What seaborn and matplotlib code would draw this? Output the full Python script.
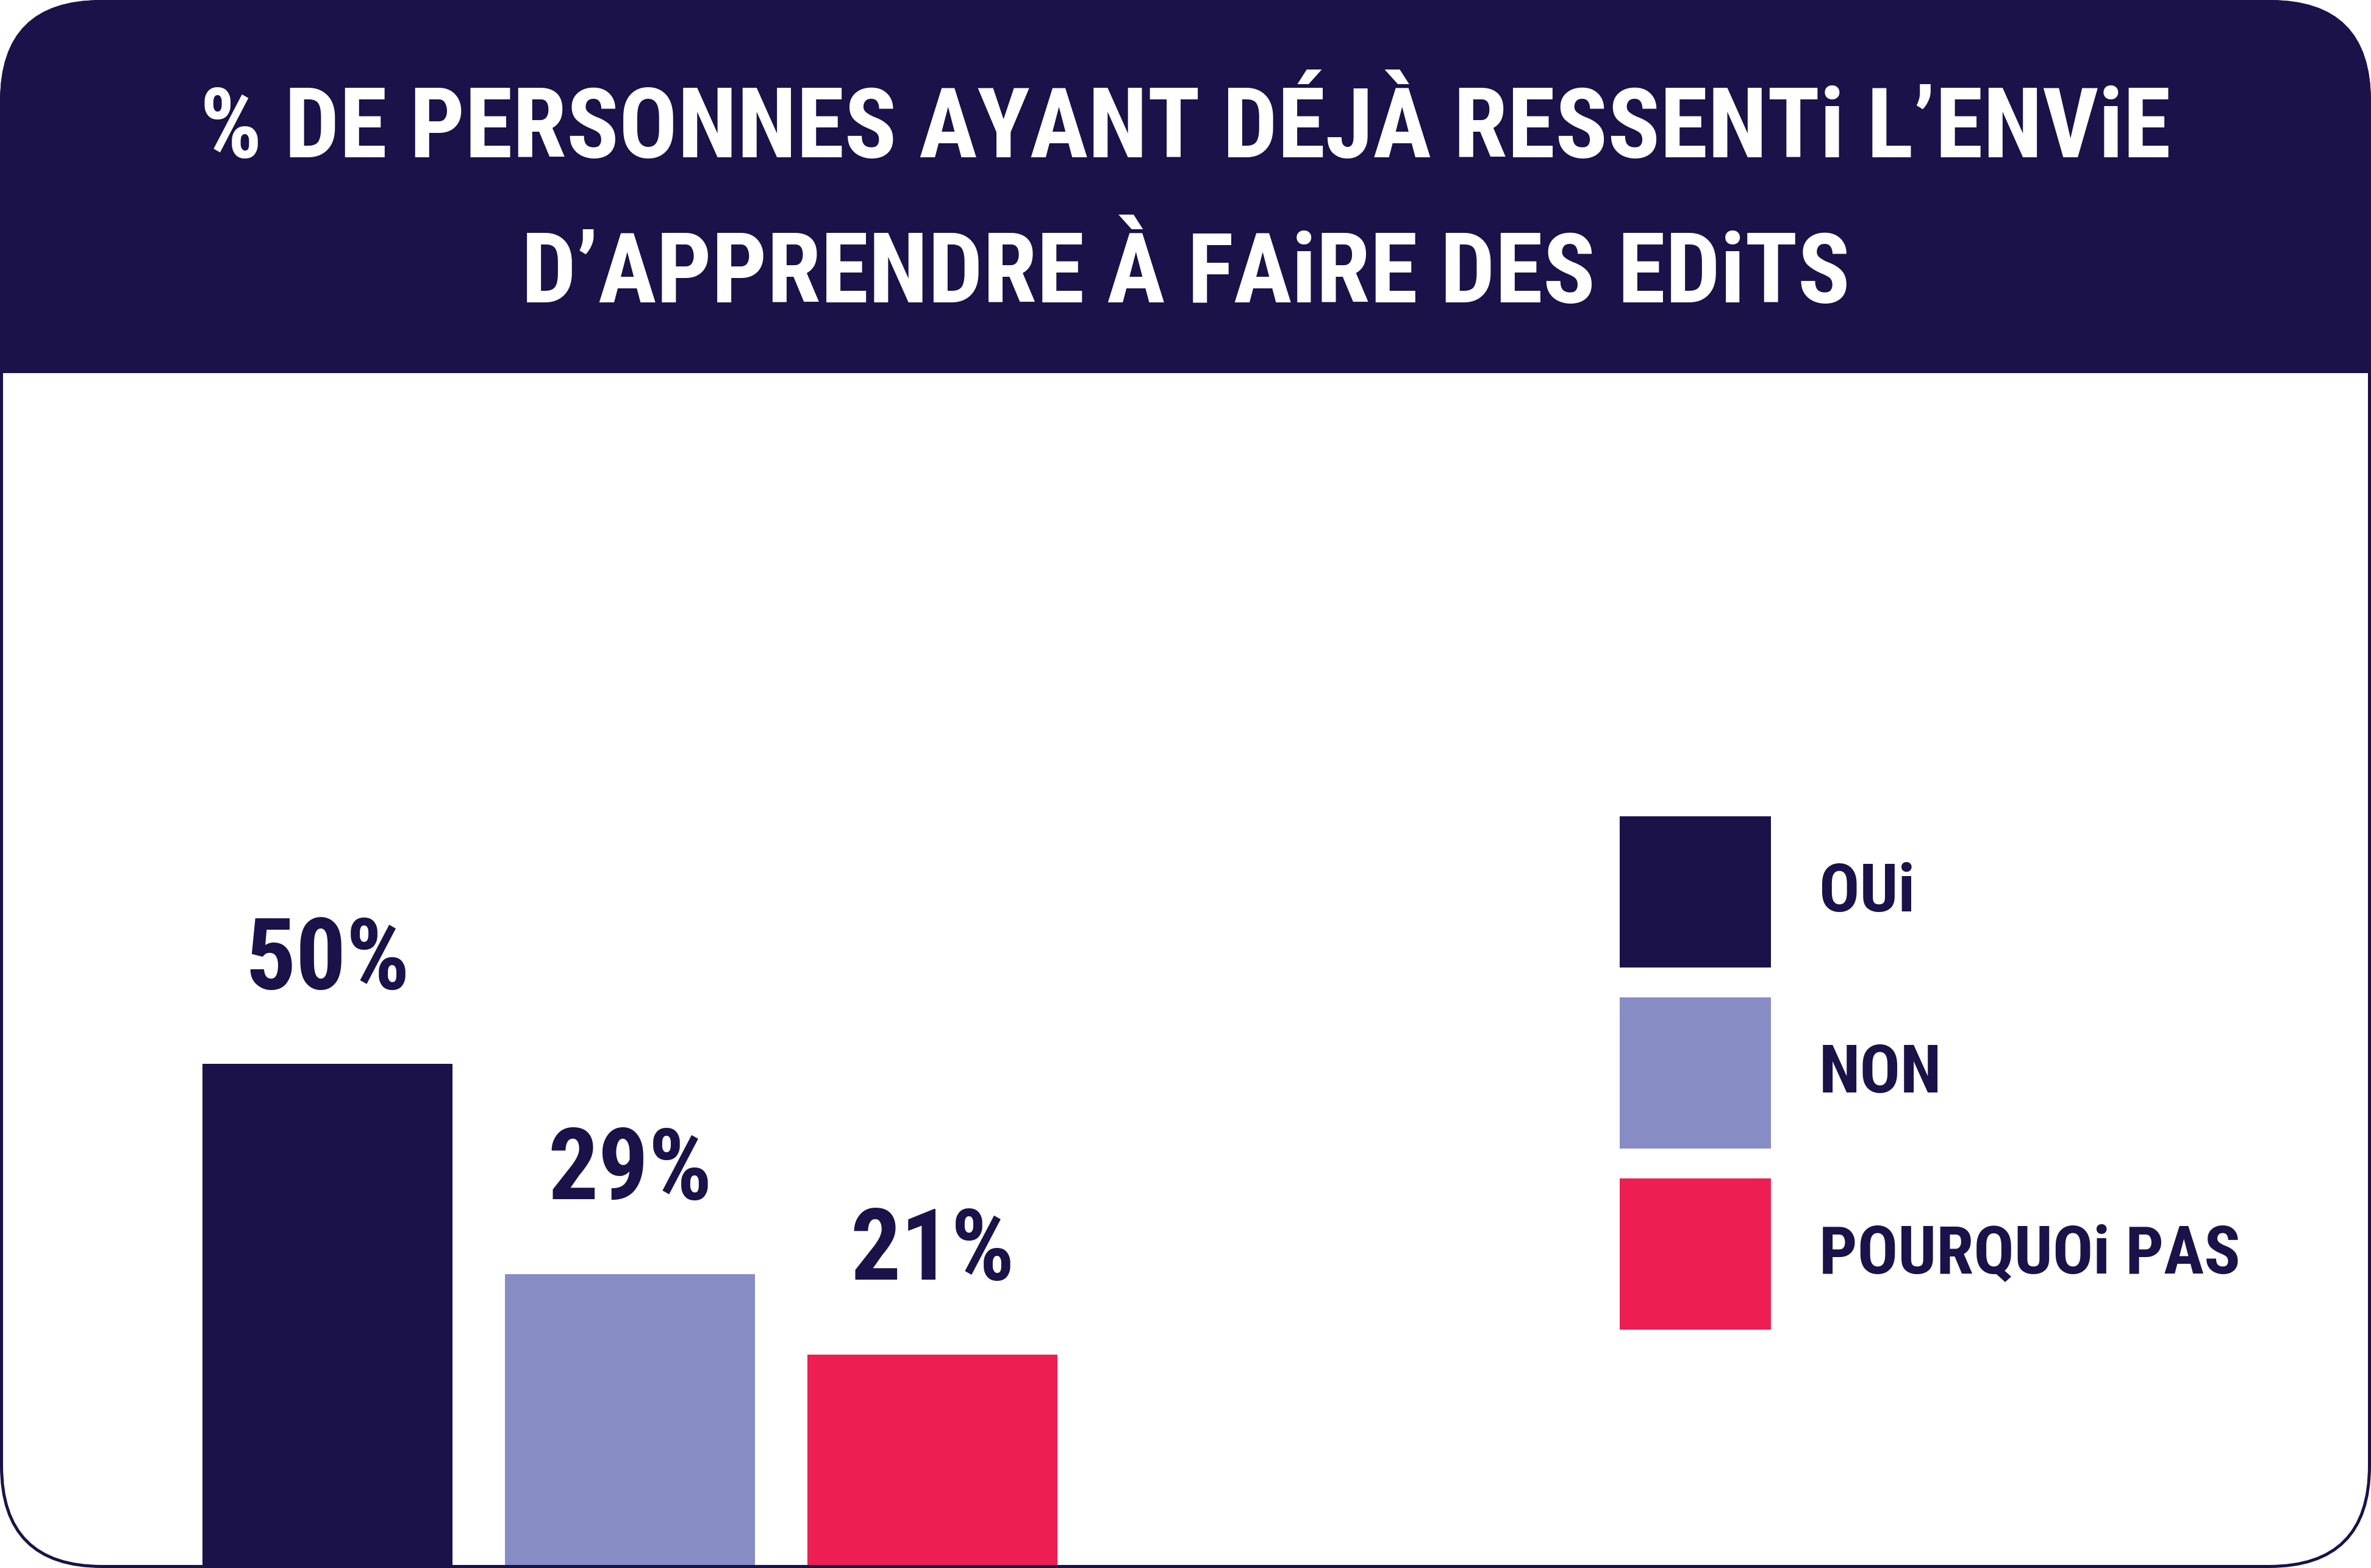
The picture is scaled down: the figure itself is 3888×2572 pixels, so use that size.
import os
import pandas as pd
import seaborn as sns
import matplotlib.pyplot as plt
from matplotlib import font_manager
from matplotlib.font_manager import FontProperties
from matplotlib.patches import FancyBboxPatch, Rectangle


# data
categories = ['OUi', 'NON', 'POURQUOi PAS']
values = [50, 29, 21]
value_labels = ['50%', '29%', '21%']
colors = ['#1B1249', '#878DC4', '#ED1F52']
title_lines = ['% DE PERSONNES AYANT DÉJÀ RESSENTi L’ENViE',
               'D’APPRENDRE À FAiRE DES EDiTS']

navy = '#1B1249'


def pick_font():
    # a condensed bold face is closest to the poster lettering
    files = {os.path.basename(f.fname).lower(): f.fname
             for f in font_manager.fontManager.ttflist}
    wanted = ['robotocondensed-bold.ttf', 'notosans-condensedbold.ttf',
              'notosans-extracondensedbold.ttf', 'dejavusanscondensed-bold.ttf',
              'liberationsansnarrow-bold.ttf', 'opensans-condensedbold.ttf']
    for name in wanted:
        if name in files:
            return FontProperties(fname=files[name])
    for name, path in sorted(files.items()):
        if ('condensed' in name or 'narrow' in name) and 'bold' in name \
                and 'italic' not in name and 'oblique' not in name \
                and 'extrabold' not in name and 'semibold' not in name:
            return FontProperties(fname=path)
    return FontProperties(family='Liberation Sans', weight='bold')


sns.set_theme(style='white')

W, H = 3888, 2572
fig = plt.figure(figsize=(W / 100, H / 100), dpi=100)
renderer = fig.canvas.get_renderer()
font = pick_font()


def fit_size(text, target_px, size=100):
    t = fig.text(0, 0, text, fontproperties=font, fontsize=size)
    w = t.get_window_extent(renderer).width
    t.remove()
    return size * target_px / w


# background card, drawn in pixel coordinates
bg = fig.add_axes([0, 0, 1, 1])
bg.set_xlim(0, W)
bg.set_ylim(H, 0)
bg.axis('off')

radius = 165
bg.add_patch(FancyBboxPatch((2.5, 2.5), W - 5, H - 5,
                            boxstyle=f'round,pad=0,rounding_size={radius}',
                            facecolor='white', edgecolor=navy, linewidth=3.6))
bg.add_patch(FancyBboxPatch((0, 0), W, 612,
                            boxstyle=f'round,pad=0,rounding_size={radius}',
                            facecolor=navy, edgecolor='none'))
bg.add_patch(Rectangle((0, 612 - radius), W, radius, facecolor=navy, edgecolor='none'))

title_size = fit_size(title_lines[0], 3230)
fig.text(0.5, 1 - 258 / H, title_lines[0], ha='center', va='baseline',
         color='white', fontproperties=font, fontsize=title_size)
fig.text(0.5, 1 - 496 / H, title_lines[1], ha='center', va='baseline',
         color='white', fontproperties=font, fontsize=title_size)

# chart axes laid over the whole figure
ax = fig.add_axes([0, 0, 1, 1])
ax.patch.set_alpha(0)

df = pd.DataFrame({'reponse': categories, 'pct': values})

sns.barplot(
    data=df,
    x='reponse',
    y='pct',
    hue='reponse',
    palette=colors,
    saturation=1,
    width=0.825,
    linewidth=0,
    legend=False,
    ax=ax
)

label_size = fit_size('50%', 270)
for container, lab in zip(ax.containers, value_labels):
    ax.bar_label(container, labels=[lab], padding=0.55 * label_size,
                 color=navy, fontproperties=font, fontsize=label_size)

px_per_unit = 16.44
ax.set_ylim(-5 / px_per_unit, (H - 5) / px_per_unit)
ax.set_xlim(-537 / 496, (W - 537) / 496)
ax.axis('off')

# legend squares 248 px high, 297 px apart
legend_size = fit_size(categories[2], 690)
handles = [c.patches[0] for c in ax.containers]
leg_font = font.copy()
leg_font.set_size(legend_size)
square_pt = 248 * 0.72
hh = (square_pt / legend_size - 0.245) / 0.65
ax.legend(
    handles, categories,
    loc='upper left',
    bbox_to_anchor=(2656 / W, 1 - 1339 / H),
    bbox_transform=fig.transFigure,
    frameon=False,
    borderpad=0,
    borderaxespad=0,
    handlelength=square_pt / legend_size,
    handleheight=hh,
    labelspacing=(297 - 248) * 0.72 / legend_size,
    handletextpad=79 * 0.72 / legend_size,
    labelcolor=navy,
    prop=leg_font
)

fig.savefig('out.png', dpi=100)
